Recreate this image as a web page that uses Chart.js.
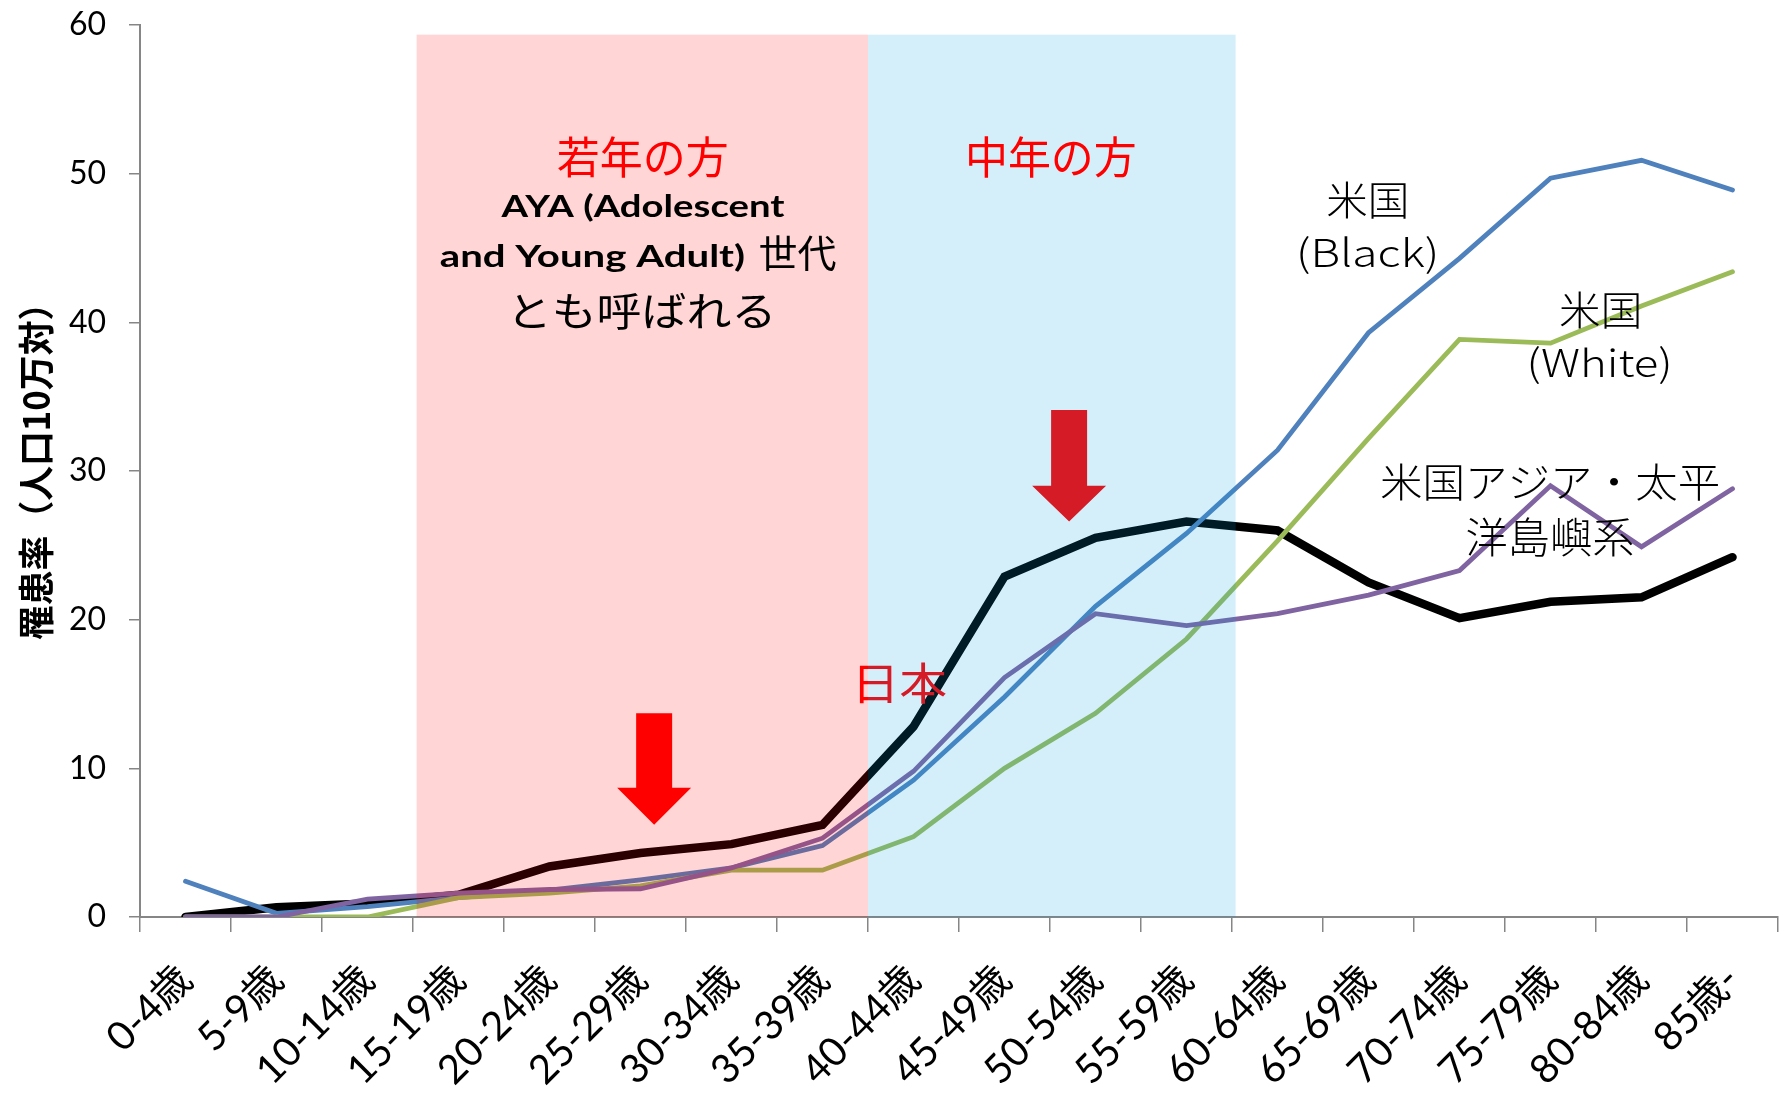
<!DOCTYPE html>
<html>
<head>
<meta charset="utf-8">
<script src="https://cdn.jsdelivr.net/npm/chart.js@4.4.1/dist/chart.umd.min.js"></script>
<style>
  html, body { margin: 0; padding: 0; background: #fff; }
  #wrap { width: 1790px; height: 1110px; }
</style>
</head>
<body>
<div id="wrap"><canvas id="incidenceChart"></canvas></div>
<script>
// age groups on the x axis
const ageGroups = ['0-4歳', '5-9歳', '10-14歳', '15-19歳', '20-24歳', '25-29歳', '30-34歳', '35-39歳',
  '40-44歳', '45-49歳', '50-54歳', '55-59歳', '60-64歳', '65-69歳', '70-74歳', '75-79歳', '80-84歳', '85歳-']

// incidence per 100,000
const japan   = [0, 0.65, 0.9, 1.5, 3.4, 4.3, 4.9, 6.2, 12.8, 22.9, 25.5, 26.6, 26.0, 22.5, 20.1, 21.2, 21.5, 24.2]
const usBlack = [2.4, 0.25, 0.7, 1.3, 1.8, 2.5, 3.3, 4.8, 9.2, 14.8, 20.9, 25.8, 31.4, 39.3, 44.3, 49.7, 50.9, 48.9]
const usWhite = [0, 0, 0, 1.3, 1.6, 2.1, 3.15, 3.15, 5.4, 10.0, 13.7, 18.7, 25.3, 32.2, 38.85, 38.6, 41.1, 43.4]
const usAsian = [0, 0, 1.2, 1.6, 1.85, 1.9, 3.3, 5.3, 9.8, 16.1, 20.4, 19.6, 20.4, 21.65, 23.3, 29.0, 24.9, 28.8]

const yMin = 0
const yMax = 60
const yStep = 10
const yTitle = '罹患率（人口10万対）'

const CJK = '"Noto Sans CJK JP", sans-serif'
const NUM = 'Lato, "Noto Sans CJK JP", sans-serif'

// shaded age bands (category index range, top value)
const bands = [
  { from: 2.54, to: 7.5, top: 59.35, color: 'rgba(255, 0, 0, 0.165)' },
  { from: 7.5, to: 11.54, top: 59.35, color: 'rgba(8, 161, 225, 0.17)' }
]

const arrows = [
  { at: 5.15, top: 13.7, neck: 8.7, tip: 6.2, shaft: 36, head: 74 },
  { at: 9.71, top: 34.1, neck: 29.0, tip: 26.6, shaft: 36, head: 74 }
]

// text under the band tint: position (category index, value), font, ink width
const lowerNotes = [
  { text: '日本', at: 7.88, val: 15.74, font: '44px ' + CJK, w: 87, color: '#ff0000' }
]

// text above everything
const upperNotes = [
  { text: '若年の方', at: 5.02, val: 51.1, font: '44px ' + CJK, w: 169, color: '#ff0000' },
  { text: 'AYA (Adolescent', at: 5.02, val: 47.75, font: 'bold 30px Lato, ' + CJK, w: 284, color: '#000' },
  { text: 'and Young Adult)', at: 4.47, val: 44.4, font: 'bold 30px Lato, ' + CJK, w: 305, color: '#000' },
  { text: '世代', at: 6.73, val: 44.6, font: '38px ' + CJK, w: 77, color: '#000' },
  { text: 'とも呼ばれる', at: 5.03, val: 40.75, font: '40px ' + CJK, w: 255, color: '#000' },
  { text: '中年の方', at: 9.52, val: 51.1, font: '44px ' + CJK, w: 166, color: '#ff0000' },
  { text: '米国', at: 12.98, val: 48.2, font: '300 40px ' + CJK, w: 79, color: '#000' },
  { text: '(Black)', at: 12.99, val: 44.5, font: '300 38px ' + CJK, w: 136, color: '#000' },
  { text: '米国', at: 15.54, val: 40.8, font: '300 40px ' + CJK, w: 79, color: '#000' },
  { text: '(White)', at: 15.54, val: 37.1, font: '300 38px ' + CJK, w: 139, color: '#000' },
  { text: '米国アジア・太平', at: 14.99, val: 29.25, font: '300 40px ' + CJK, w: 337, color: '#000' },
  { text: '洋島嶼系', at: 14.99, val: 25.55, font: '300 42px ' + CJK, w: 166, color: '#000' }
]

// draw text with its ink box centred on (cx, cy), stretched to ink width w
function inkText(ctx, text, cx, cy, w, angle) {
  ctx.textAlign = 'left'
  ctx.textBaseline = 'alphabetic'
  const m = ctx.measureText(text)
  const inkW = m.actualBoundingBoxLeft + m.actualBoundingBoxRight
  const midX = (m.actualBoundingBoxRight - m.actualBoundingBoxLeft) / 2
  const dy = (m.actualBoundingBoxAscent - m.actualBoundingBoxDescent) / 2
  ctx.save()
  ctx.translate(cx, cy)
  ctx.rotate(angle || 0)
  ctx.scale(w / inkW, 1)
  ctx.fillText(text, -midX, dy)
  ctx.restore()
}

function drawNotes(ctx, x, y, notes) {
  notes.forEach(n => {
    ctx.font = n.font
    ctx.fillStyle = n.color
    inkText(ctx, n.text, x.getPixelForValue(n.at), y.getPixelForValue(n.val), n.w)
  })
}

const overlay = {
  id: 'overlay',
  afterDatasetsDraw(chart) {
    const ctx = chart.ctx
    const x = chart.scales.x
    const y = chart.scales.y
    ctx.save()

    arrows.forEach(a => {
      const cx = x.getPixelForValue(a.at)
      const top = y.getPixelForValue(a.top)
      const neck = y.getPixelForValue(a.neck)
      const tip = y.getPixelForValue(a.tip)
      ctx.fillStyle = '#ff0000'
      ctx.beginPath()
      ctx.moveTo(cx - a.shaft / 2, top)
      ctx.lineTo(cx + a.shaft / 2, top)
      ctx.lineTo(cx + a.shaft / 2, neck)
      ctx.lineTo(cx + a.head / 2, neck)
      ctx.lineTo(cx, tip)
      ctx.lineTo(cx - a.head / 2, neck)
      ctx.lineTo(cx - a.shaft / 2, neck)
      ctx.closePath()
      ctx.fill()
    })

    drawNotes(ctx, x, y, lowerNotes)

    bands.forEach(b => {
      const x0 = x.getPixelForValue(b.from)
      const x1 = x.getPixelForValue(b.to)
      const y0 = y.getPixelForValue(b.top)
      const y1 = y.getPixelForValue(yMin)
      ctx.fillStyle = b.color
      ctx.fillRect(x0, y0, x1 - x0, y1 - y0)
    })

    drawNotes(ctx, x, y, upperNotes)

    // axis title, rotated, ink centred next to the axis
    ctx.font = 'bold 36px ' + CJK
    ctx.fillStyle = '#000'
    const area = chart.chartArea
    inkText(ctx, yTitle, area.left - 104, (area.top + area.bottom) / 2 + 3, 332, -Math.PI / 2)
    ctx.restore()
  }
}

const line = (label, data, color, width, order) => ({
  label: label,
  data: data,
  borderColor: color,
  backgroundColor: color,
  borderWidth: width,
  pointRadius: 0,
  tension: 0,
  borderCapStyle: 'round',
  order: order
})

new Chart(document.getElementById('incidenceChart').getContext('2d'), {
  type: 'line',
  data: {
    labels: ageGroups,
    datasets: [
      line('日本', japan, '#000000', 8.5, 3),
      line('米国(Black)', usBlack, '#4f81bd', 4.8, 2),
      line('米国(White)', usWhite, '#9bbb59', 4.8, 1),
      line('米国アジア・太平洋島嶼系', usAsian, '#8064a2', 4.8, 0)
    ]
  },
  options: {
    responsive: true,
    maintainAspectRatio: false,
    animation: false,
    layout: { autoPadding: false, padding: { top: 25, right: 12, left: 0, bottom: 0 } },
    plugins: {
      legend: { display: false },
      tooltip: { enabled: false }
    },
    scales: {
      x: {
        offset: true,
        afterFit: s => { s.height = 193; s.paddingLeft = 0; s.paddingRight = 0 },
        border: { color: '#868686', width: 2 },
        grid: { offset: true, drawOnChartArea: false, drawTicks: true, tickLength: 15, color: '#868686', lineWidth: 1.5 },
        ticks: {
          autoSkip: false, maxRotation: 45, minRotation: 45, padding: 24,
          color: '#000', font: { family: NUM, size: 40 }
        }
      },
      y: {
        min: yMin,
        max: yMax,
        afterFit: s => { s.width = 140; s.paddingTop = 0; s.paddingBottom = 0 },
        border: { color: '#868686', width: 2 },
        grid: { drawOnChartArea: false, drawTicks: true, tickLength: 11, color: '#868686', lineWidth: 1.5 },
        ticks: { stepSize: yStep, padding: 23, color: '#000', font: { family: NUM, size: 32 } }
      }
    }
  },
  plugins: [overlay]
})
</script>
</body>
</html>
